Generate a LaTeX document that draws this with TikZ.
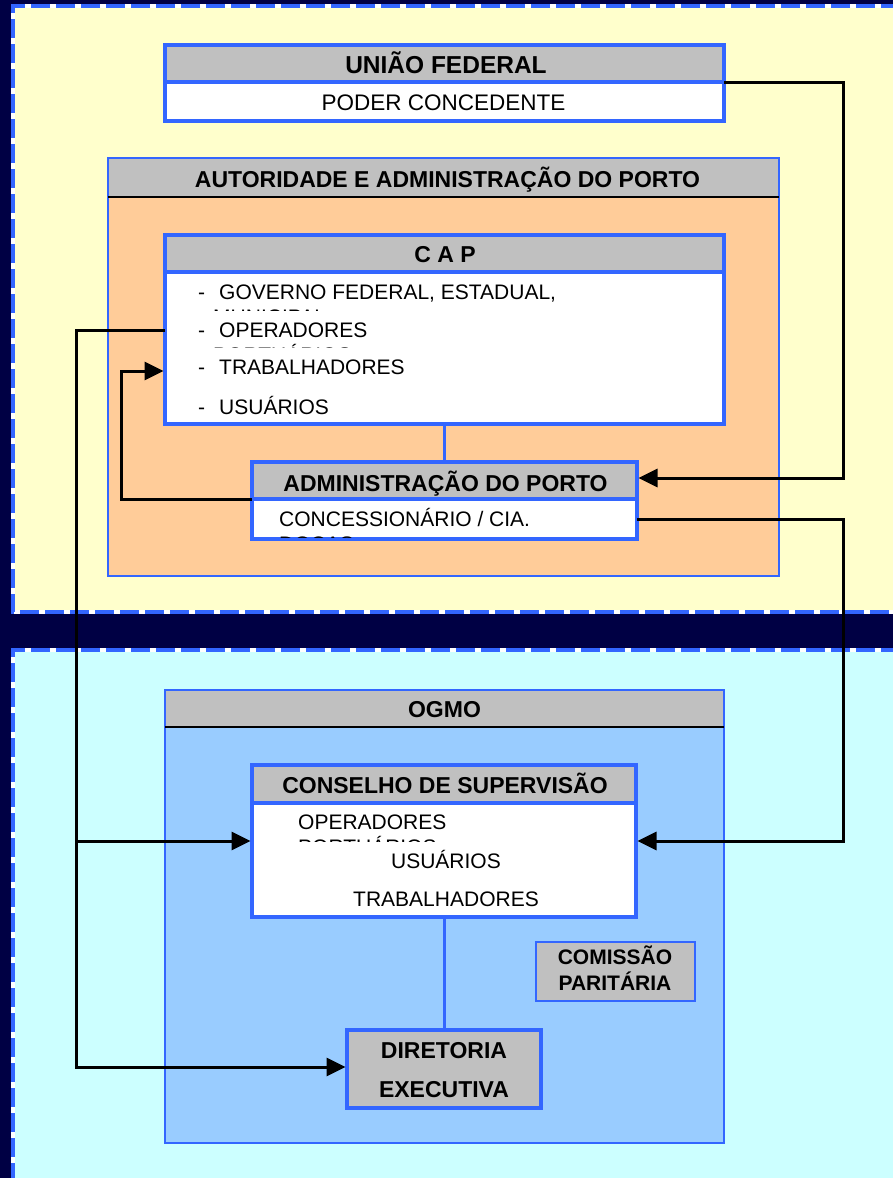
\documentclass[tikz,border=0pt]{standalone}
\usepackage{fontspec}
\setmainfont{Liberation Sans}
\usetikzlibrary{arrows.meta,calc}
\definecolor{navy}{HTML}{000044}
\definecolor{bblue}{HTML}{3366FF}
\definecolor{zyellow}{HTML}{FFFFCC}
\definecolor{zcyan}{HTML}{CCFFFF}
\definecolor{peach}{HTML}{FFCC99}
\definecolor{lblue}{HTML}{99CCFF}
\definecolor{hgray}{HTML}{C0C0C0}
\begin{document}
\begin{tikzpicture}[x=1pt,y=-1pt,
  box/.style={rectangle, inner sep=0pt, outer sep=0pt, anchor=north west, draw=bblue},
  thickbox/.style={box, line width=3.5pt},
  thinbox/.style={box, line width=2pt},
  txt/.style={inner sep=0pt, anchor=base, font=\fontsize{21}{24}\selectfont},
  btxt/.style={inner sep=0pt, anchor=base, font=\fontsize{23}{26}\selectfont\bfseries},
  zoneline/.style={white, line width=4pt},
  zonedash/.style={bblue, line width=4pt, dash pattern=on 19pt off 6pt},
  conn/.style={draw=black, line width=3pt},
  arr/.style={-{Triangle[length=19pt,width=18pt]}, shorten >=1.5pt},
  blink/.style={draw=bblue, line width=3pt}
]
\fill[navy] (0,0) rectangle (893,1178);
\useasboundingbox (0,0) rectangle (893,1178);
\clip (0,0) rectangle (893,1178);

% zones
\fill[zyellow] (13,6) rectangle (900,612);
\draw[zoneline] (900,6) -- (13,6) -- (13,612) -- (900,612);
\draw[zonedash] (900,6) -- (13,6) -- (13,612) -- (900,612);
\fill[zcyan] (13,650) rectangle (900,1190);
\draw[zoneline] (900,650) -- (13,650) -- (13,1190);
\draw[zonedash] (900,650) -- (13,650) -- (13,1190);

% UNIAO FEDERAL
\node[thickbox, fill=hgray, minimum width=559pt, minimum height=37pt] (uh) at (165,45) {};
\node[thickbox, fill=white, minimum width=559pt, minimum height=39pt] (ub) at (165,82) {};
\node[btxt, font=\fontsize{24.5}{27}\selectfont\bfseries] (tuh) at (446,73) {UNIÃO FEDERAL};
\node[txt, font=\fontsize{22.5}{26}\selectfont] (tub) at (443.5,110) {PODER CONCEDENTE};

% AUTORIDADE
\node[thinbox, fill=peach, minimum width=671pt, minimum height=379pt] (aab) at (108,197) {};
\node[thinbox, fill=hgray, minimum width=671pt, minimum height=39pt] (aah) at (108,158) {};
\draw[black, line width=1.5pt] (aah.south west) -- (aah.south east);
\node[btxt] (taah) at (447.5,187) {AUTORIDADE E ADMINISTRAÇÃO DO PORTO};

% CAP
\node[thickbox, fill=hgray, minimum width=559pt, minimum height=37pt] (caph) at (165,235) {};
\node[thickbox, fill=white, minimum width=559pt, minimum height=152pt] (capb) at (165,272) {};
\node[btxt] (tcap) at (445,262) {C A P};
\node[txt, anchor=base west] (i1) at (198,299) {\makebox[21pt][l]{-}GOVERNO FEDERAL, ESTADUAL,};
\begin{scope}
  \clip (170,280) rectangle (720,310.5);
  \node[txt, anchor=base west] (i1b) at (213,324) {MUNICIPAL};
\end{scope}
\node[txt, anchor=base west] (i2) at (198,337) {\makebox[21pt][l]{-}OPERADORES};
\begin{scope}
  \clip (170,320) rectangle (720,347.5);
  \node[txt, anchor=base west] (i2b) at (213,362) {PORTUÁRIOS};
\end{scope}
\node[txt, anchor=base west] (i3) at (198,374) {\makebox[21pt][l]{-}TRABALHADORES};
\node[txt, anchor=base west] (i4) at (198,414) {\makebox[21pt][l]{-}USUÁRIOS};

% ADMINISTRACAO DO PORTO
\node[thickbox, fill=hgray, minimum width=385pt, minimum height=37pt] (ah) at (252,462) {};
\node[thickbox, fill=white, minimum width=385pt, minimum height=40pt] (ab) at (252,499) {};
\node[btxt] (tah) at (445.5,491) {ADMINISTRAÇÃO DO PORTO};
\node[txt, anchor=base west] (tab) at (279,526) {CONCESSIONÁRIO / CIA.};
\begin{scope}
  \clip (256,505) rectangle (632,537);
  \node[txt, anchor=base west] (tab2) at (279,551) {DOCAS};
\end{scope}
\draw[blink] (capb.south) -- (ah.north);

% OGMO
\node[box, line width=2.5pt, fill=lblue, minimum width=559pt, minimum height=416pt] (ob) at (165,727) {};
\node[box, line width=2.5pt, fill=hgray, minimum width=559pt, minimum height=37pt] (oh) at (165,690) {};
\draw[black, line width=1.5pt] (oh.south west) -- (oh.south east);
\node[btxt] (toh) at (444.5,717) {OGMO};

% CONSELHO
\node[thickbox, fill=hgray, minimum width=384pt, minimum height=38pt] (ch) at (252,765) {};
\node[thickbox, fill=white, minimum width=384pt, minimum height=114pt] (cb) at (252,803) {};
\node[btxt] (tch) at (445,793) {CONSELHO DE SUPERVISÃO};
\node[txt, anchor=base west] (c1) at (298,829) {OPERADORES};
\begin{scope}
  \clip (258,810) rectangle (630,841);
  \node[txt, anchor=base west] (c1b) at (298,854) {PORTUÁRIOS};
\end{scope}
\node[txt] (c2) at (446,868) {USUÁRIOS};
\node[txt] (c3) at (446,906) {TRABALHADORES};

% COMISSAO
\node[box, line width=1.5pt, fill=hgray, minimum width=159pt, minimum height=59pt] (cp) at (536,942) {};
\node[btxt, font=\fontsize{21}{24}\selectfont\bfseries] (tcp1) at (615,964) {COMISSÃO};
\node[btxt, font=\fontsize{21}{24}\selectfont\bfseries] (tcp2) at (615,990) {PARITÁRIA};

% DIRETORIA
\node[thickbox, fill=hgray, minimum width=194pt, minimum height=78pt] (de) at (347,1030) {};
\node[btxt] (tde1) at (444,1058) {DIRETORIA};
\node[btxt] (tde2) at (444,1097) {EXECUTIVA};
\draw[blink] (cb.south) -- (de.north);

% connector levels
\coordinate (lx) at (76,0);
\coordinate (cx) at (121,0);
\coordinate (rx) at (843,0);
\coordinate (capout) at (0,330);
\coordinate (capin) at (0,371);
\coordinate (admin) at (0,478);
\coordinate (kin) at (0,841);
\coordinate (dein) at (0,1067);

% connectors
\draw[conn, arr] (uh.south east) -| (rx |- admin) -- (ah.east |- admin);
\draw[conn, arr] (ab.east) -| (rx |- kin) -- (cb.east |- kin);
\draw[conn, arr] (ah.south west) -| (cx |- capin) -- (capb.west |- capin);
\draw[conn, arr] (capb.west |- capout) -| (lx |- dein) -- (de.west |- dein);
\draw[conn, arr] (lx |- kin) -- (cb.west |- kin);
\end{tikzpicture}
\end{document}
